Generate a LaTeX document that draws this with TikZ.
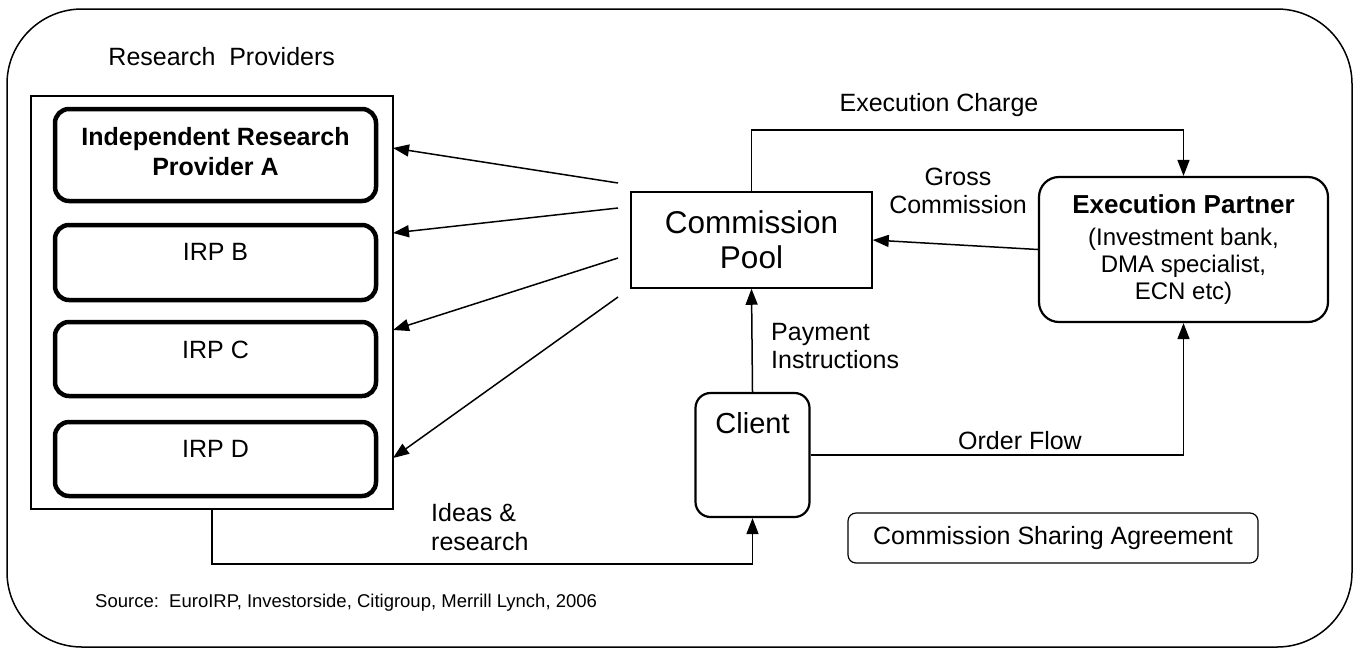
\documentclass[tikz,border=0pt]{standalone}
\usepackage{fontspec}
\setmainfont{Liberation Sans}
\usetikzlibrary{arrows.meta}
\begin{document}
\begin{tikzpicture}[x=1pt,y=-1pt,
  lbl/.style={inner sep=0pt, font=\fontsize{25}{28}\selectfont},
  irpbox/.style={draw, line width=4.5pt, rounded corners=14pt, minimum width=321pt},
  arr/.style={line width=1.5pt, -{Triangle[length=16pt,width=12pt]}},
  conn/.style={line width=1.5pt}
]
\fill[white] (0,0) rectangle (1356,649);
\useasboundingbox (0,0) rectangle (1356,649);

% outer frame
\node[draw, line width=1.5pt, rounded corners=75pt, minimum width=1345pt, minimum height=638pt] (frame) at (679.5,328) {};

% research providers
\node[lbl] (rptitle) at (221.7,57) {Research~~Providers};
\node[draw, line width=1.5pt, minimum width=362pt, minimum height=413pt] (prov) at (212,302.5) {};
\node[irpbox, minimum height=92pt] (irpa) at (215.5,155) {};
\node[irpbox, minimum height=75pt] (irpb) at (215.5,262.5) {};
\node[irpbox, minimum height=74pt] (irpc) at (215.5,359) {};
\node[irpbox, minimum height=74pt] (irpd) at (215.5,459) {};
\node[lbl, align=center, font=\fontsize{25}{30}\selectfont\bfseries] (irpat) at (215.5,152) {Independent Research\\Provider A};
\node[lbl] (irpbt) at (215.5,252) {IRP B};
\node[lbl] (irpct) at (215.5,350) {IRP C};
\node[lbl] (irpdt) at (215.5,449) {IRP D};

% commission pool
\node[draw, line width=1.5pt, minimum width=241pt, minimum height=96pt, align=center, inner sep=0pt,
      font=\fontsize{31.5}{35}\selectfont] (cp) at (751.5,240) {Commission\\Pool};

% execution partner
\node[draw, line width=2.2pt, rounded corners=20pt, minimum width=289pt, minimum height=145pt, align=center, inner sep=0pt,
      font=\fontsize{24}{27}\selectfont] (ep) at (1183.5,249.5)
      {{\fontsize{26}{27}\selectfont\bfseries Execution Partner}\\[5pt](Investment bank,\\DMA specialist,\\ECN etc)};

% client
\node[draw, line width=2.2pt, rounded corners=15pt, minimum width=114pt, minimum height=124pt] (client) at (752.5,455) {};
\node[lbl, font=\fontsize{29}{32}\selectfont] (clientt) at (752.5,423) {Client};

% commission sharing agreement
\node[draw, line width=1.2pt, rounded corners=8pt, minimum width=410pt, minimum height=50pt, inner sep=0pt,
      font=\fontsize{25}{28}\selectfont] (csa) at (1053,538) {Commission Sharing Agreement};

% source
\node[lbl, anchor=west, font=\fontsize{18.5}{22}\selectfont] (src) at (95,603) {Source:~~EuroIRP, Investorside, Citigroup, Merrill Lynch, 2006};

% arrows to providers
\coordinate (s1) at (618,183);
\coordinate (s2) at (618,208);
\coordinate (s3) at (618,258);
\coordinate (s4) at (618,297);
\coordinate (t1) at (393,148);
\coordinate (t2) at (393,233);
\coordinate (t3) at (393,330);
\coordinate (t4) at (393,458);
\draw[arr] (s1) -- (t1);
\draw[arr] (s2) -- (t2);
\draw[arr] (s3) -- (t3);
\draw[arr] (s4) -- (t4);

% execution charge
\coordinate (ecturn) at (751.5,130);
\draw[arr] (cp.north) -- (ecturn) -| (ep.north);
\node[lbl] (ecl) at (939,105) {Execution Charge};

% gross commission
\draw[arr] (ep.west) -- (cp.east);
\node[lbl, align=center] (gcl) at (958,191) {Gross\\Commission};

% payment instructions
\draw[arr] (client.north) -- (cp.south);
\node[lbl, align=left, anchor=west] (pil) at (771,346) {Payment\\Instructions};

% order flow
\draw[arr] (client.east) -| (ep.south);
\node[lbl] (ofl) at (1020,441) {Order Flow};

% ideas & research
\coordinate (irturn) at (212,564);
\draw[arr] (prov.south) -- (irturn) -| (client.south);
\node[lbl, align=left, anchor=west, font=\fontsize{25}{29}\selectfont] (irl) at (431,527.5) {Ideas \&\\research};
\end{tikzpicture}
\end{document}
